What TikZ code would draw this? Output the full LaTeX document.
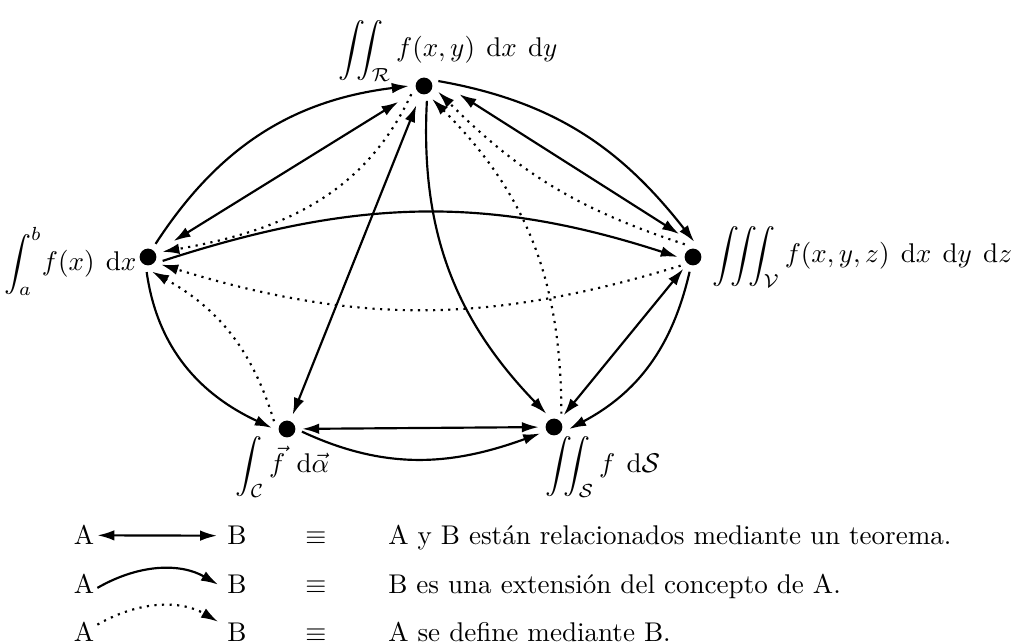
\documentclass[tikz,border=0pt]{standalone}
\usepackage{amsmath,amssymb}
\usepackage{fontspec}
\usetikzlibrary{arrows.meta}
\newcommand{\dsp}{\mspace{7.5mu}}
\begin{document}
\begin{tikzpicture}[x=0.3694pt,y=0.3694pt,
  dot/.style={circle,fill,inner sep=0pt,minimum size=6.2pt,outer sep=2.5pt},
  lab/.style={inner sep=0pt},
  thm/.style={thick,{Latex[length=6.3pt,width=3.9pt]}-{Latex[length=6.3pt,width=3.9pt]}},
  ext/.style={thick,-{Latex[length=6.3pt,width=3.9pt]}},
  dfn/.style={thick,dotted,-{Latex[length=6.3pt,width=3.9pt]}},
  leg/.style={inner sep=1pt,anchor=base}]
\useasboundingbox (0,0) rectangle (1016,-644);
% points
\node[dot] (R) at (424,-86) {};
\node[dot] (I) at (148,-257) {};
\node[dot] (V) at (693,-257) {};
\node[dot] (C) at (287,-429) {};
\node[dot] (S) at (554,-427) {};
% labels
\node[lab,anchor=base west] (LR) at (338,-57) {$\displaystyle\iint_{\mathcal R} f(x,y)\dsp\mathrm dx\dsp\mathrm dy$};
\node[lab,anchor=base east] (LI) at (137,-271) {$\displaystyle\int_a^b\! f(x)\dsp\mathrm dx$};
\node[lab,anchor=base west] (LV) at (712,-263) {$\displaystyle\iiint_{\mathcal V} f(x,y,z)\dsp\mathrm dx\dsp\mathrm dy\dsp\mathrm dz$};
\node[lab,anchor=base west] (LC) at (235,-473) {$\displaystyle\int_{\mathcal C}\vec f\dsp\mathrm d\vec\alpha$};
\node[lab,anchor=base west] (LS) at (545,-473) {$\displaystyle\iint_{\mathcal S} f\dsp\mathrm d\mathcal S$};
% theorems
\draw[thm,shorten <=5.5pt,shorten >=5.5pt] (I) -- (R);
\draw[thm,transform canvas={shift={(2.4pt,3.7pt)}},shorten <=7pt,shorten >=3.3pt] (R) -- (V);
\draw[thm,shorten <=2pt] (R) -- (C);
\draw[thm] (C) -- (S);
\draw[thm] (V) -- (S);
% extensions
\draw[ext] (I.60) to[out=57,in=187] (R.180);
\draw[ext] (R.19) to[out=-10,in=128] (V.85);
\draw[ext] (I.-15) to[out=18,in=162] (V.180);
\draw[ext] (I.-95) to[out=-82,in=155] (C.176);
\draw[ext] (C.-10) to[out=-25,in=200] (S.205);
\draw[ext] (R.-79) to[out=-93,in=134] (S.120);
\draw[ext] (V.-103) to[out=-103,in=28] (S.-8);
% definitions
\draw[dfn] (R.213) to[out=245,in=10] (I.20);
\draw[dfn] (V.215) to[out=197,in=-17] (I.-30);
\draw[dfn] (C.149) to[out=107,in=-29] (I.-75);
\draw[dfn] (S.61) to[out=90,in=-45] (R.-58);
\draw[dfn] (V.123) to[out=162,in=-45] (R.-22);
% legend
\node[leg] (A1) at (84,-545) {A};
\node[leg] (B1) at (237,-545) {B};
\node[leg] (E1) at (316,-545) {$\equiv$};
\node[leg,anchor=base west] (T1) at (385,-545) {A y B están relacionados mediante un teorema.};
\node[leg] (A2) at (84,-594) {A};
\node[leg] (B2) at (237,-594) {B};
\node[leg] (E2) at (316,-594) {$\equiv$};
\node[leg,anchor=base west] (T2) at (385,-594) {B es una extensión del concepto de A.};
\node[leg] (A3) at (84,-642) {A};
\node[leg] (B3) at (237,-642) {B};
\node[leg] (E3) at (316,-642) {$\equiv$};
\node[leg,anchor=base west] (T3) at (385,-642) {A se define mediante B.};
\draw[thm,shorten >=2.6pt] (A1) -- (B1);
\draw[ext,shorten >=2.6pt] (A2.-15) to[bend left=30] (B2.-165);
\draw[dfn,shorten >=2.6pt] (A3) to[bend left=30] (B3);
\end{tikzpicture}
\end{document}
